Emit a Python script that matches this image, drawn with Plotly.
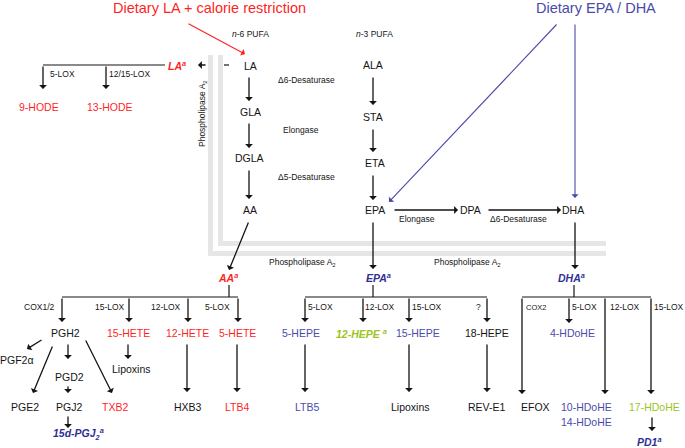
import plotly.graph_objects as go

W, H = 685, 448
RED = '#ff1f1f'
BLUE = '#4a4aaa'
DBLUE = '#2f2f96'
GREEN = '#9cc41c'
BLACK = '#151515'
GRAY = '#e6e6e6'
FONT = 'Liberation Sans, Arial, Helvetica, sans-serif'

# ---- text labels
title_labels = ['Dietary LA + calorie restriction', 'Dietary EPA / DHA']
title_x = [209, 596]
title_y = [8, 8]
title_colors = [RED, BLUE]

node_labels = ['LA', 'GLA', 'DGLA', 'AA', 'ALA', 'STA', 'ETA', 'EPA', 'DPA', 'DHA',
               '9-HODE', '13-HODE',
               'PGH2', '15-HETE', '12-HETE', '5-HETE', 'PGF2α', 'PGD2', 'Lipoxins',
               'PGE2', 'PGJ2', 'TXB2', 'HXB3', 'LTB4',
               '5-HEPE', '15-HEPE', '18-HEPE', 'LTB5', 'Lipoxins', 'REV-E1',
               '4-HDoHE', 'EFOX', '10-HDoHE', '14-HDoHE', '17-HDoHE']
node_x = [250, 250, 249, 250, 373, 373, 375, 375, 470, 573,
          39, 110,
          65, 128, 187, 237, 17, 69, 131,
          25, 69, 115, 188, 237,
          301, 418, 487, 307, 410, 487,
          572, 535, 586, 586, 654]
node_y = [66, 112, 158, 210, 65, 117, 163, 210, 210, 210,
          107, 107,
          333, 333, 333, 333, 360, 377, 369,
          407, 407, 407, 407, 407,
          333, 333, 333, 407, 407, 407,
          333, 407, 407, 422, 407]
node_colors = [BLACK] * 10 + [RED, RED] + \
              [BLACK, RED, RED, RED, BLACK, BLACK, BLACK,
               BLACK, BLACK, RED, BLACK, RED,
               BLUE, BLUE, BLACK, BLUE, BLACK, BLACK,
               BLUE, BLACK, BLUE, BLUE, GREEN]

key_labels = ['LA<sup>a</sup>', 'AA<sup>a</sup>', 'EPA<sup>a</sup>', 'DHA<sup>a</sup>',
              '15d-PGJ<sub>2</sub><sup>a</sup>', '12-HEPE <sup>a</sup>', 'PD1<sup>a</sup>']
key_x = [177, 228, 378, 571, 78, 361, 649]
key_y = [65, 277, 277, 277, 434, 333, 441]
key_colors = [RED, RED, DBLUE, DBLUE, DBLUE, GREEN, DBLUE]

enzyme_labels = ['<i>n</i>-6 PUFA', '<i>n</i>-3 PUFA',
                 'Δ6-Desaturase', 'Elongase', 'Δ5-Desaturase', 'Elongase', 'Δ6-Desaturase',
                 'Phospholipase A<sub>2</sub>', 'Phospholipase A<sub>2</sub>',
                 '5-LOX', '12/15-LOX',
                 'COX1/2', '15-LOX', '12-LOX', '5-LOX',
                 '5-LOX', '12-LOX', '15-LOX', '?',
                 'COX2', '5-LOX', '12-LOX', '15-LOX']
enzyme_x = [250, 374, 306, 301, 306, 417, 518, 302, 467,
            62, 129, 39, 110, 166, 217, 320, 380, 427, 478, 536, 584, 625, 669]
enzyme_y = [34, 34, 80, 130, 177, 219, 219, 262, 262,
            74, 74, 307, 307, 307, 307, 307, 307, 307, 307, 307, 307, 307, 307]

# ---- arrows: start (ax, ay) -> end (x, y)
arrow_ax = [249, 249, 249, 373, 373, 373, 393, 487, 249, 373, 575, 207,
            43, 106, 62, 129, 188, 238,
            43, 53, 68, 68, 68, 85, 128, 187, 237,
            305, 363, 409, 487, 305, 409, 487,
            522, 569, 605, 651, 652]
arrow_ay = [76, 122, 169, 76, 128, 174, 210, 210, 221, 221, 221, 65,
            65, 65, 297, 297, 297, 297,
            339, 345, 343, 385, 415, 339, 343, 343, 343,
            297, 297, 297, 297, 343, 343, 343,
            297, 297, 297, 297, 416]
arrow_x = [249, 249, 249, 373, 373, 373, 458, 561, 229, 373, 575, 198,
           43, 106, 62, 129, 188, 238,
           27, 33, 68, 68, 68, 112, 128, 187, 237,
           305, 363, 409, 487, 305, 409, 487,
           522, 569, 605, 651, 652]
arrow_y = [101, 148, 199, 105, 152, 200, 210, 210, 270, 269, 269, 65,
           89, 89, 322, 322, 322, 322,
           349, 393, 359, 393, 428, 393, 359, 392, 392,
           322, 322, 322, 322, 392, 392, 392,
           394, 323, 394, 394, 431]

diet_ax = [187, 558, 575]
diet_ay = [23, 23, 23]
diet_x = [245, 389, 575]
diet_y = [54, 202, 198]
diet_colors = [RED, BLUE, BLUE]

# ---- plain lines
line_x0 = [43, 224, 229, 62, 373, 305, 574, 522]
line_y0 = [65, 65, 285, 297, 285, 297, 285, 297]
line_x1 = [165, 229, 229, 238, 373, 487, 574, 651]
line_y1 = [65, 65, 297, 297, 297, 297, 297, 297]

# ---- phospholipase membrane strips
strip_x0 = [208, 218, 218, 208]
strip_y0 = [55, 55, 241, 251]
strip_x1 = [213, 223, 606, 606]
strip_y1 = [256, 246, 246, 256]

fig = go.Figure()
fig.add_trace(go.Scatter(x=[0, W], y=[0, H], mode='markers',
                         marker=dict(opacity=0), hoverinfo='skip', showlegend=False))

shapes = []
for x0, y0, x1, y1 in zip(strip_x0, strip_y0, strip_x1, strip_y1):
    shapes.append(dict(type='rect', xref='x', yref='y', x0=x0, y0=y0, x1=x1, y1=y1,
                       fillcolor=GRAY, line=dict(width=0), layer='above'))
for x0, y0, x1, y1 in zip(line_x0, line_y0, line_x1, line_y1):
    shapes.append(dict(type='line', xref='x', yref='y', x0=x0, y0=y0, x1=x1, y1=y1,
                       line=dict(color=BLACK, width=1.2), layer='above'))

ann = []


def txt(t, x, y, color, size, **kw):
    d = dict(text=t, x=x, y=y, xref='x', yref='y', showarrow=False,
             xanchor='center', yanchor='middle',
             font=dict(family=FONT, size=size, color=color))
    d.update(kw)
    ann.append(d)


for t, x, y, c in zip(title_labels, title_x, title_y, title_colors):
    txt(t, x, y, c, 14.5)
for t, x, y, c in zip(node_labels, node_x, node_y, node_colors):
    txt(t, x, y, c, 10.5)
for t, x, y, c in zip(key_labels, key_x, key_y, key_colors):
    txt('<b><i>' + t + '</i></b>', x, y, c, 10.5)
for t, x, y in zip(enzyme_labels, enzyme_x, enzyme_y):
    txt(t, x, y, BLACK, 8.5 if t != 'COX2' else 7.5)
txt('Phospholipase A<sub>2</sub>', 202, 114, BLACK, 8.5, textangle=-90)

for ax, ay, x, y in zip(arrow_ax, arrow_ay, arrow_x, arrow_y):
    ann.append(dict(text='', x=x, y=y, ax=ax, ay=ay, xref='x', yref='y',
                    axref='x', ayref='y', showarrow=True, arrowhead=1,
                    arrowsize=1.0, arrowwidth=1.3, arrowcolor=BLACK,
                    standoff=0, startstandoff=0))
for ax, ay, x, y, c in zip(diet_ax, diet_ay, diet_x, diet_y, diet_colors):
    ann.append(dict(text='', x=x, y=y, ax=ax, ay=ay, xref='x', yref='y',
                    axref='x', ayref='y', showarrow=True, arrowhead=1,
                    arrowsize=1.1, arrowwidth=1.1, arrowcolor=c,
                    standoff=0, startstandoff=0))

fig.update_layout(
    width=W, height=H, margin=dict(l=0, r=0, t=0, b=0),
    paper_bgcolor='white', plot_bgcolor='white',
    xaxis=dict(range=[0, W], visible=False, fixedrange=True),
    yaxis=dict(range=[H, 0], visible=False, fixedrange=True),
    shapes=shapes, annotations=ann, showlegend=False,
)
fig.write_html('out.html', config={'displayModeBar': False},
               post_script="document.body.style.margin='0';document.body.style.overflow='hidden';")
